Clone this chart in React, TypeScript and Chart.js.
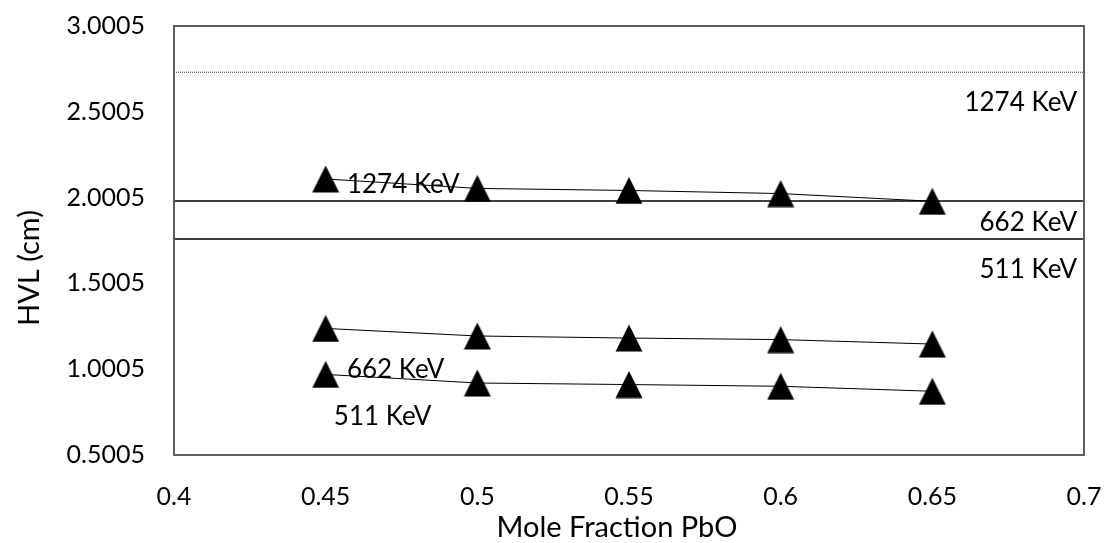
import React, { useEffect, useRef } from "react";
import { Chart, registerables } from "chart.js";

Chart.register(...registerables);

// ---- data ----
const moleFraction = [0.45, 0.5, 0.55, 0.6, 0.65];
const hvl1274 = [2.109, 2.054, 2.042, 2.024, 1.979];
const hvl662 = [1.238, 1.194, 1.182, 1.173, 1.147];
const hvl511 = [0.970, 0.920, 0.911, 0.901, 0.872];

const refX = [0.4, 0.7];
const ref1274 = 2.731;
const ref662 = 1.981;
const ref511 = 1.759;

const xTicks = [0.4, 0.45, 0.5, 0.55, 0.6, 0.65, 0.7];
const xTickLabels = ["0.4", "0.45", "0.5", "0.55", "0.6", "0.65", "0.7"];
const yTicks = [0.5005, 1.0005, 1.5005, 2.0005, 2.5005, 3.0005];
const yTickLabels = ["0.5005", "1.0005", "1.5005", "2.0005", "2.5005", "3.0005"];

const xTitle = "Mole Fraction PbO";
const yTitle = "HVL (cm)";

// text annotations (data coordinates)
const noteText = ["1274 KeV", "662 KeV", "511 KeV", "1274 KeV", "662 KeV", "511 KeV"];
const noteX = [0.457, 0.457, 0.4527, 0.6977, 0.6977, 0.6977];
const noteY = [2.074, 0.996, 0.722, 2.552, 1.853, 1.579];
const noteAlign = ["left", "left", "left", "right", "right", "right"];

const FONT = "Lato, 'Open Sans', sans-serif";
const TICK_FS = 25;
const NOTE_FS = 26;
const TITLE_FS = 29;

function makeTriangle(): HTMLCanvasElement {
  const c = document.createElement("canvas");
  c.width = 28;
  c.height = 28;
  const g = c.getContext("2d")!;
  g.fillStyle = "#000";
  g.beginPath();
  g.moveTo(14, 0.5);
  g.lineTo(27.5, 27.5);
  g.lineTo(0.5, 27.5);
  g.closePath();
  g.fill();
  return c;
}

export default function App() {
  const ref = useRef<HTMLCanvasElement | null>(null);

  useEffect(() => {
    if (!ref.current) return;
    const tri = makeTriangle();
    const series = (vals: number[]) => ({
      data: moleFraction.map((x, i) => ({ x, y: vals[i] })),
      borderColor: "#000",
      borderWidth: 1,
      pointStyle: tri as any,
      pointRadius: 14,
      showLine: true,
    });
    const refLine = (v: number, color: string, width: number, dash: number[]) => ({
      data: refX.map((x) => ({ x, y: v })),
      borderColor: color,
      borderWidth: width,
      borderDash: dash,
      pointRadius: 0,
      showLine: true,
    });

    const extras = {
      id: "extras",
      afterDraw(chart: any) {
        const { ctx, chartArea, scales } = chart;
        ctx.save();
        ctx.strokeStyle = "#5f5f5f";
        ctx.lineWidth = 2;
        ctx.strokeRect(chartArea.left, chartArea.top, chartArea.right - chartArea.left, chartArea.bottom - chartArea.top);
        ctx.fillStyle = "#000";
        ctx.font = `${NOTE_FS}px ${FONT}`;
        ctx.textBaseline = "middle";
        noteText.forEach((t, i) => {
          ctx.textAlign = noteAlign[i];
          ctx.fillText(t, scales.x.getPixelForValue(noteX[i]), scales.y.getPixelForValue(noteY[i]));
        });
        ctx.font = `${TITLE_FS}px ${FONT}`;
        ctx.textAlign = "center";
        ctx.fillText(xTitle, 617, 528);
        ctx.translate(30, 268);
        ctx.rotate(-Math.PI / 2);
        ctx.fillText(yTitle, 0, 0);
        ctx.restore();
      },
    };

    const chart = new Chart(ref.current, {
      type: "scatter",
      data: {
        datasets: [
          refLine(ref1274, "#333", 1, [1, 1]) as any,
          refLine(ref662, "#000", 1.5, []) as any,
          refLine(ref511, "#000", 1.5, []) as any,
          series(hvl1274) as any,
          series(hvl662) as any,
          series(hvl511) as any,
        ],
      },
      options: {
        animation: false,
        responsive: true,
        maintainAspectRatio: false,
        layout: { padding: { top: 26, right: 22, left: 0, bottom: 0 } },
        plugins: { legend: { display: false }, tooltip: { enabled: false } },
        scales: {
          x: {
            type: "linear",
            min: 0.4,
            max: 0.7,
            grid: { display: false, drawTicks: false },
            border: { display: false },
            afterFit: (s: any) => {
              s.height = 88;
              s.paddingLeft = 0;
              s.paddingRight = 0;
            },
            afterBuildTicks: (s: any) => { s.ticks = xTicks.map((v) => ({ value: v })); },
            ticks: {
              padding: 27,
              maxRotation: 0,
              autoSkip: false,
              color: "#000",
              font: { family: FONT, size: TICK_FS },
              callback: (_v: any, i: number) => xTickLabels[i],
            },
          },
          y: {
            type: "linear",
            min: 0.5005,
            max: 3.0005,
            grid: { display: false, drawTicks: false },
            border: { display: false },
            afterFit: (s: any) => {
              s.width = 174;
              s.paddingTop = 0;
              s.paddingBottom = 0;
            },
            afterBuildTicks: (s: any) => { s.ticks = yTicks.map((v) => ({ value: v })); },
            ticks: {
              padding: 29,
              autoSkip: false,
              color: "#000",
              font: { family: FONT, size: TICK_FS },
              callback: (_v: any, i: number) => yTickLabels[i],
            },
          },
        },
      },
      plugins: [extras],
    });
    return () => chart.destroy();
  }, []);

  return (
    <div style={{ position: "fixed", left: 0, top: 0, width: 1106, height: 543, background: "#fff" }}>
      <canvas ref={ref} />
    </div>
  );
}
